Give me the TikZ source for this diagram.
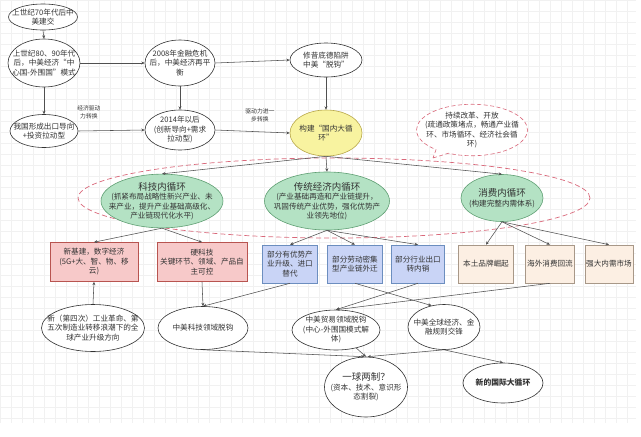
\documentclass[tikz,border=0pt]{standalone}
\usepackage{fontspec}
\setmainfont{Noto Sans CJK SC}
\usetikzlibrary{arrows.meta,shapes.geometric,shapes.callouts}
\definecolor{linie}{HTML}{505050}
\definecolor{rand}{HTML}{333333}
\definecolor{gitter}{HTML}{F1F1F1}
\definecolor{gelb}{HTML}{F8F3A0}
\definecolor{gelbr}{HTML}{B8A84A}
\definecolor{gruen}{HTML}{B4E2C4}
\definecolor{gruenr}{HTML}{5E9E72}
\definecolor{rosa}{HTML}{F7C9C9}
\definecolor{rosar}{HTML}{B85450}
\definecolor{blau}{HTML}{C9D4F6}
\definecolor{blaur}{HTML}{6C8EBF}
\definecolor{pfirsich}{HTML}{FCEFE3}
\definecolor{pfirsichr}{HTML}{A89888}
\definecolor{strich}{HTML}{D9687A}
\newcommand\titel{\fontsize{9.5}{12}\selectfont}
\tikzset{
  pfeil/.style={-{Stealth[length=3.4pt,width=3pt]},linie,line width=0.55pt},
  oval/.style={ellipse,draw=rand,fill=white,line width=0.6pt,inner xsep=-40pt,inner ysep=0pt,align=center,text=rand,font=\fontsize{7.6}{9.5}\selectfont},
  ovalg/.style={oval,fill=gelb,draw=gelbr},
  ovalgr/.style={oval,fill=gruen,draw=gruenr},
  kasten/.style={rectangle,line width=0.6pt,inner xsep=1pt,inner ysep=1pt,align=center,text=rand,font=\fontsize{7.6}{9.5}\selectfont},
  rot/.style={kasten,fill=rosa,draw=rosar},
  blaukasten/.style={kasten,fill=blau,draw=blaur},
  orange/.style={kasten,fill=pfirsich,draw=pfirsichr},
  gruppe/.style={ellipse,draw=strich,dash pattern=on 5pt off 3pt,line width=0.7pt,inner sep=0pt},
  wolke/.style={ellipse callout,draw=strich,fill=white,dash pattern=on 4pt off 2.5pt,line width=0.6pt,inner xsep=-40pt,inner ysep=0pt,align=center,text=rand,font=\fontsize{7.6}{9.5}\selectfont},
  lbl/.style={text=rand,align=center,inner sep=0pt,font=\fontsize{5.8}{7.5}\selectfont},
}

\begin{document}
\begin{tikzpicture}[x=1pt,y=-1pt]
  \useasboundingbox (0,0) rectangle (641,437);
  \draw[gitter,line width=0.4pt,xstep=11pt,ystep=11pt] (0,0) grid (636,423);

  \node[gruppe,minimum width=512pt,minimum height=80pt] (kreis) at (334,198) {};
  \coordinate (spitze) at (433,158);

  \node[oval,minimum width=69pt,minimum height=26pt] (e70) at (43,17) {上世纪70年代后中\\美建交};
  \node[oval,minimum width=72pt,minimum height=48pt] (e80) at (44,63) {上世纪80、90年代\\后，中美经济“中\\心国-外围国”模式};
  \node[oval,minimum width=68pt,minimum height=33pt] (export) at (44,131) {我国形成出口导向\\+投资拉动型};
  \node[oval,minimum width=70pt,minimum height=46pt] (e2008) at (180,63) {2008年金融危机\\后，中美经济再平\\衡};
  \node[oval,minimum width=70pt,minimum height=40pt] (e2014) at (180,130) {2014年以后\\(创新导向+需求\\拉动型)};
  \node[oval,minimum width=72pt,minimum height=34pt] (falle) at (326,60) {修昔底德陷阱\\中美“脱钩”};
  \node[ovalg,minimum width=72pt,minimum height=46pt] (inland) at (326,133) {构建“国内大循\\环”};
  \node[wolke,minimum width=111pt,minimum height=45pt,callout absolute pointer={(spitze)}] (reform) at (472,130) {持续改革、开放\\(疏通政策堵点，畅通产业循\\环、市场循环、经济社会循\\环)};

  \node[ovalgr,minimum width=122pt,minimum height=48pt] (tech) at (162,201) {{\titel 科技内循环}\\(抓紧布局战略性新兴产业、未\\来产业，提升产业基础高级化、\\产业链现代化水平)};
  \node[ovalgr,minimum width=125pt,minimum height=58pt] (trad) at (327,201) {{\titel 传统经济内循环}\\(产业基础再造和产业链提升，\\巩固传统产业优势，强化优势产\\业领先地位)};
  \node[ovalgr,minimum width=82pt,minimum height=47pt] (konsum) at (502,198) {{\titel 消费内循环}\\(构建完整内需体系)};

  \node[rot,minimum width=88pt,minimum height=39pt] (infra) at (94,262) {新基建，数字经济\\(5G+大、智、物、移\\云)};
  \node[rot,minimum width=90pt,minimum height=39pt] (hart) at (202,262) {硬科技\\关键环节、领域、产品自\\主可控};
  \node[blaukasten,minimum width=55pt,minimum height=38pt] (upgrade) at (290,264) {部分有优势产\\业升级、进口\\替代};
  \node[blaukasten,minimum width=55pt,minimum height=38pt] (arbeit) at (355,264) {部分劳动密集\\型产业链外迁};
  \node[blaukasten,minimum width=53pt,minimum height=38pt] (export2) at (418,264) {部分行业出口\\转内销};
  \node[orange,minimum width=55pt,minimum height=38pt] (marke) at (486,264) {本土品牌崛起};
  \node[orange,minimum width=49pt,minimum height=38pt] (rueck) at (550,264) {海外消费回流};
  \node[orange,minimum width=48pt,minimum height=38pt] (markt) at (609,264) {强大内需市场};

  \node[oval,minimum width=103pt,minimum height=47pt] (welle) at (93,328) {新（第四次）工业革命、第\\五次制造业转移浪潮下的全\\球产业升级方向};
  \node[oval,minimum width=90pt,minimum height=43pt] (techab) at (203,328) {中美科技领域脱钩};
  \node[oval,minimum width=88pt,minimum height=40pt] (handel) at (336,330) {中美贸易领域脱钩\\(中心-外围国模式解\\体)};
  \node[oval,minimum width=72pt,minimum height=45pt] (regeln) at (444,327) {中美全球经济、金\\融规则交锋};
  \node[oval,minimum width=83pt,minimum height=60pt] (zwei) at (366,387) {{\titel 一球两制？}\\(资本、技术、意识形\\态割裂)};
  \node[oval,minimum width=80pt,minimum height=40pt,font=\bfseries\fontsize{7.8}{9.5}\selectfont] (neu) at (503,383) {新的国际大循环};

  \draw[pfeil] (e70.south) -- (e80.north);
  \draw[pfeil] (e80.south) -- (export.north);
  \draw[pfeil] (e80.east) -- (e2008.west);
  \draw[pfeil] (export.east) -- (e2014.west) node[lbl,pos=0.16,above=12pt] {经济驱动\\力转换};
  \draw[pfeil] (e2008.south) -- (e2014.north);
  \draw[pfeil] (e2008.east) -- (falle.west);
  \draw[pfeil] (e2014.east) -- (inland.west) node[lbl,pos=0.6,above=10pt] {驱动力进一\\步转换};
  \draw[pfeil] (falle.south) -- (inland.north);
  \draw[pfeil] (inland.south) -- (tech.north);
  \draw[pfeil] (inland.south) -- (trad.north);
  \draw[pfeil] (inland.south) -- (konsum.north);
  \draw[pfeil] (tech.south) -- (infra.north);
  \draw[pfeil] (tech.south) -- (hart.north);
  \draw[pfeil] (trad.south) -- (upgrade.north);
  \draw[pfeil] (trad.south) -- (arbeit.north);
  \draw[pfeil] (trad.south) -- (export2.north);
  \draw[pfeil] (konsum.south) -- (marke.north);
  \draw[pfeil] (konsum.south) -- (rueck.north);
  \draw[pfeil] (konsum.south) -- (markt.north);
  \draw[pfeil] (welle.north) -- (infra.south);
  \draw[pfeil] (hart.south) -- (techab.north);
  \draw[pfeil] (upgrade.south) -- (techab.north);
  \draw[pfeil] (arbeit.south) -- (regeln.120);
  \draw[pfeil] (export2.south) -- (handel.north);
  \draw[pfeil] (rueck.south) -- (handel.north);
  \draw[pfeil] (techab.south) -- ([xshift=-1.5pt]zwei.north);
  \draw[pfeil] (handel) -- (zwei.north);
  \draw[pfeil] (regeln.south) -- ([xshift=1.5pt]zwei.north);
  \draw[pfeil] (regeln.south) -- (neu.north);
\end{tikzpicture}
\end{document}
